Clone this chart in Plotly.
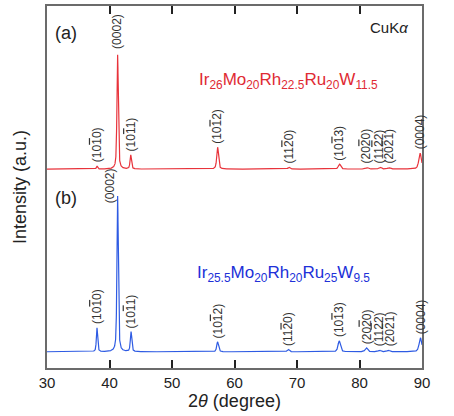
import numpy as np
import plotly.graph_objects as go

# ---------------- data ----------------
peak_labels = ["(10{o}1{c}0)", "(0002)", "(10{o}1{c}1)", "(10{o}1{c}2)", "(11{o}2{c}0)",
               "(10{o}1{c}3)", "(20{o}2{c}0)", "(11{o}2{c}2)", "(20{o}2{c}1)", "(0004)"]

red_pos = [38.0, 41.3, 43.4, 57.3, 68.7, 76.8, 81.2, 83.3, 84.7, 89.7]
red_int = [3.0, 115.0, 14.0, 22.0, 2.0, 5.0, 1.5, 2.0, 1.5, 16.0]

blue_pos = [38.0, 41.3, 43.45, 57.3, 68.6, 76.75, 81.1, 83.2, 84.6, 89.75]
blue_int = [24.0, 156.5, 20.0, 10.0, 2.5, 11.0, 4.0, 1.5, 1.5, 14.0]

red_name = "Ir<sub>26</sub>Mo<sub>20</sub>Rh<sub>22.5</sub>Ru<sub>20</sub>W<sub>11.5</sub>"
blue_name = "Ir<sub>25.5</sub>Mo<sub>20</sub>Rh<sub>20</sub>Ru<sub>25</sub>W<sub>9.5</sub>"

x_ticks = [30, 40, 50, 60, 70, 80, 90]

# ---------------- styling / layout ----------------
RED = "#e8333b"
BLUE = "#2e5be3"
RED_TXT = "#e02a33"
BLUE_TXT = "#2030d8"
LBL = "#333333"
AXC = "#6b6b6b"
FONT = "Liberation Sans, Arial, sans-serif"

red_offset = 200.0
blue_offset = 16.3

tt = np.arange(30.0, 90.0001, 0.01)


def profile(pos, inten):
    y = np.zeros_like(tt)
    for p, h in zip(pos, inten):
        w = 0.10 + 0.0025 * (p - 30)
        d = ((tt - p) / w) ** 2
        y += h * (0.55 / (1 + d) + 0.45 * np.exp(-np.log(2) * d))
    return y


fig = go.Figure()
fig.add_trace(go.Scatter(x=tt, y=profile(red_pos, red_int) + red_offset, mode="lines",
                         line=dict(color=RED, width=1.2), showlegend=False, hoverinfo="skip"))
fig.add_trace(go.Scatter(x=tt, y=profile(blue_pos, blue_int) + blue_offset, mode="lines",
                         line=dict(color=BLUE, width=1.2), showlegend=False, hoverinfo="skip"))

ann = []


def fmt(s):
    return s.replace("{o}", "<span style='text-decoration:overline'>").replace("{c}", "</span>")


def add_labels(pos, inten, offset, nudges):
    for i, (p, h) in enumerate(zip(pos, inten)):
        dx, ytop = nudges.get(i, (0.0, None))
        ybase = offset + max(h, 2.0) + 2.5 if ytop is None else ytop
        ann.append(dict(x=p + dx, y=ybase, xref="x", yref="y", text=fmt(peak_labels[i]),
                        textangle=-90, showarrow=False, xanchor="center", yanchor="bottom",
                        font=dict(family=FONT, size=12, color=LBL), borderpad=0))


add_labels(red_pos, red_int, red_offset, {1: (0.0, red_offset + 120.0),
                                          6: (-0.1, None), 7: (-0.2, None), 8: (0.1, None)})
add_labels(blue_pos, blue_int, blue_offset, {1: (-1.1, 165.0),
                                             6: (0.0, None), 7: (-0.1, None), 8: (0.2, None)})

ann += [
    dict(x=68.6, y=289, xref="x", yref="y", text=red_name, showarrow=False,
         font=dict(family=FONT, size=17, color=RED_TXT), xanchor="center", yanchor="middle"),
    dict(x=67.8, y=95, xref="x", yref="y", text=blue_name, showarrow=False,
         font=dict(family=FONT, size=17, color=BLUE_TXT), xanchor="center", yanchor="middle"),
    dict(x=84.65, y=342.5, xref="x", yref="y", text="CuK<i>α</i>", showarrow=False,
         font=dict(family=FONT, size=15, color="#222222"), xanchor="center", yanchor="middle"),
    dict(x=33.06, y=337, xref="x", yref="y", text="(a)", showarrow=False,
         font=dict(family=FONT, size=18, color="#222222"), xanchor="center", yanchor="middle"),
    dict(x=33.06, y=171, xref="x", yref="y", text="(b)", showarrow=False,
         font=dict(family=FONT, size=18, color="#222222"), xanchor="center", yanchor="middle"),
    dict(x=-0.072, y=0.5, xref="paper", yref="paper", text="Intensity (a.u.)", showarrow=False,
         textangle=-90, font=dict(family=FONT, size=18, color="#222222"),
         xanchor="center", yanchor="middle"),
]

fig.update_layout(
    width=454, height=416,
    margin=dict(l=47, r=32, t=4, b=48),
    paper_bgcolor="white", plot_bgcolor="white",
    font=dict(family=FONT, color="#222222"),
    annotations=ann,
    xaxis=dict(range=[30, 90], tickvals=x_ticks, ticks="inside", ticklen=8, tickwidth=1.5,
               tickcolor="#222222", showline=True, linecolor=AXC, linewidth=1.8, mirror="ticks",
               showgrid=False, zeroline=False, tickfont=dict(size=15, color="#222222"),
               title=dict(text="2<i>θ</i> (degree)", font=dict(size=18, color="#222222"), standoff=4)),
    yaxis=dict(range=[0, 364], showticklabels=False, ticks="", showline=True, linecolor=AXC,
               linewidth=1.8, mirror=True, showgrid=False, zeroline=False),
)

fig.write_html("out.html")
